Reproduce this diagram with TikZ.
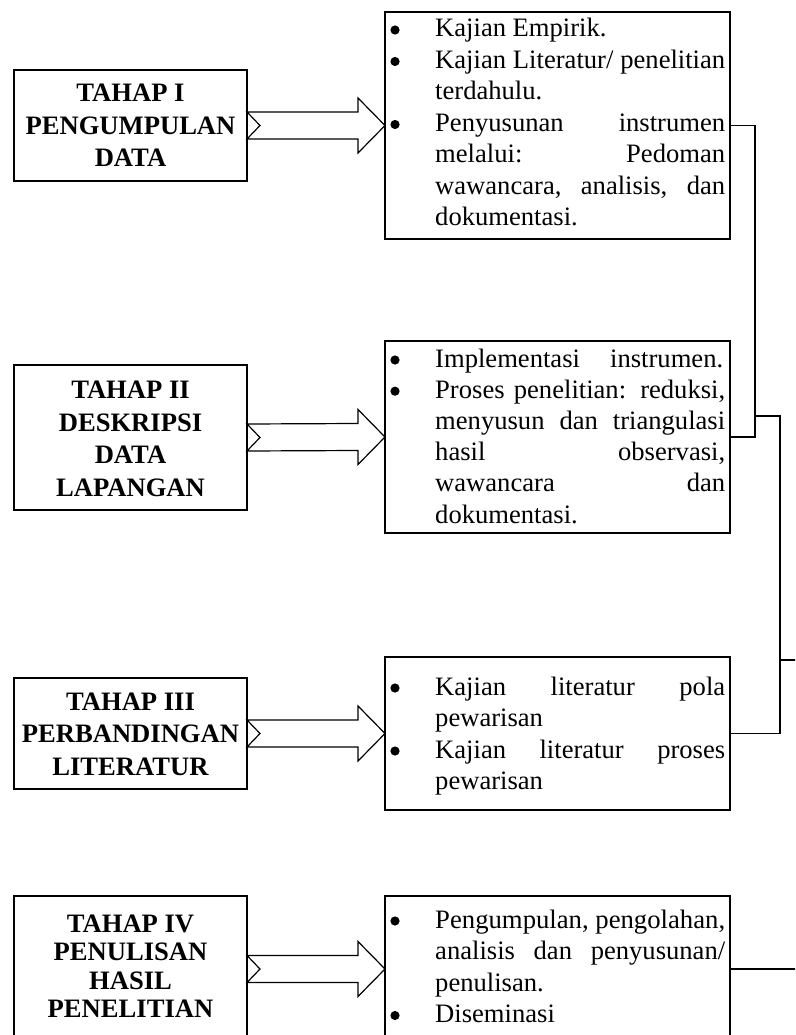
\documentclass[tikz,border=0pt]{standalone}
\usepackage{fontspec}
\setmainfont{Liberation Serif}
\usetikzlibrary{calc}
\newcommand\nitem[1]{\hbox{\hspace*{44pt}#1}}
\newcommand\jus[1]{\makebox[290pt][s]{#1}}
\tikzset{
  lbox/.style={draw, line width=1.2pt, rectangle, inner sep=0pt, outer sep=0pt,
    minimum width=233pt},
  rbox/.style={draw, line width=1.2pt, rectangle, inner sep=0pt, outer sep=0pt,
    minimum width=345pt},
  ltext/.style={inner sep=0pt, align=center, font=\fontsize{26.6}{32.5}\selectfont\bfseries},
  rtext/.style={inner sep=0pt, anchor=base west, font=\fontsize{26.6}{31.5}\selectfont},
  arrowshape/.style={draw, fill=white, line width=1.2pt, line join=miter},
  conn/.style={draw, line width=1.3pt},
  bul/.style={fill=black}
}
\newcommand\fatarrow[2]{\draw[arrowshape] ($(#1)+(0,-13.5)$) -- ($(#2)+(-27,-13.5)$) -- ($(#2)+(-27,-27.5)$) -- (#2) -- ($(#2)+(-27,27.5)$) -- ($(#2)+(-27,13.5)$) -- ($(#1)+(0,13.5)$) -- ($(#1)+(13,0)$) -- cycle;}
\begin{document}
\begin{tikzpicture}[x=1pt,y=-1pt]
\clip (0,0) rectangle (795,1035);
\fill[white] (0,0) rectangle (795,1035);
% left boxes
\node[lbox, minimum height=111pt] (L1) at (130.5,125.5) {};
\node[lbox, minimum height=145pt] (L2) at (130.5,437.5) {};
\node[lbox, minimum height=111pt] (L3) at (130.5,733.5) {};
\node[lbox, minimum height=146pt] (L4) at (130.5,969) {};
\node[ltext] (LT1) at (130.5,125.5) {TAHAP I\\PENGUMPULAN\\DATA};
\node[ltext] (LT2) at (130.5,439) {TAHAP II\\DESKRIPSI\\DATA\\LAPANGAN};
\node[ltext] (LT3) at (130.5,734) {TAHAP III\\PERBANDINGAN\\LITERATUR};
\node[ltext, font=\fontsize{26.6}{28.5}\selectfont\bfseries] (LT4) at (130.5,966) {TAHAP IV\\PENULISAN\\HASIL\\PENELITIAN};
% right boxes
\node[rbox, minimum height=227pt] (R1) at (557.5,125.5) {};
\node[rbox, minimum height=192pt] (R2) at (557.5,437) {};
\node[rbox, minimum height=153pt] (R3) at (557.5,733.5) {};
\node[rbox, minimum height=146pt] (R4) at (557.5,969) {};
\node[rtext] (RT1) at (391,37) {\vtop{%
  \nitem{Kajian Empirik.}
  \nitem{\jus{Kajian Literatur/ penelitian}}
  \nitem{terdahulu.}
  \nitem{\jus{Penyusunan instrumen}}
  \nitem{\jus{melalui: Pedoman}}
  \nitem{\jus{wawancara, analisis, dan}}
  \nitem{dokumentasi.}}};
\node[rtext, font=\fontsize{26.6}{31.2}\selectfont] (RT2) at (391,367) {\vtop{%
  \nitem{\makebox[288pt][s]{Implementasi instrumen.}}
  \nitem{\jus{Proses penelitian: reduksi,}}
  \nitem{\jus{menyusun dan triangulasi}}
  \nitem{\jus{hasil observasi,}}
  \nitem{\jus{wawancara dan}}
  \nitem{dokumentasi.}}};
\node[rtext] (RT3) at (391,695) {\vtop{%
  \nitem{\jus{Kajian literatur pola}}
  \nitem{pewarisan}
  \nitem{\jus{Kajian literatur proses}}
  \nitem{pewarisan}}};
\node[rtext] (RT4) at (391,928) {\vtop{%
  \nitem{\resizebox{290pt}{\height}{Pengumpulan, pengolahan,}}
  \nitem{\jus{analisis dan penyusunan/}}
  \nitem{penulisan.}
  \nitem{Diseminasi}}};
% bullets
\foreach \by in {30,61.5,124.5,360,391.2,688,751,921,1015.5}
  \fill[bul] (395,\by) circle (4.6);
% block arrows
\fatarrow{L1.east}{R1.west}
\fatarrow{L2.east}{R2.west}
\fatarrow{L3.east}{R3.west}
\fatarrow{L4.east}{R4.west}
% connectors
\coordinate (j1) at (755,416);
\coordinate (j2) at (780,660);
\coordinate (e1) at (810,660);
\coordinate (e2) at (810,969);
\draw[conn] (R1.east) -- (R1.east -| j1) |- (R2.east);
\draw[conn] (j1) -| (j2) |- (R3.east);
\draw[conn] (j2) -- (e1);
\draw[conn] (R4.east) -- (e2);
\end{tikzpicture}
\end{document}
